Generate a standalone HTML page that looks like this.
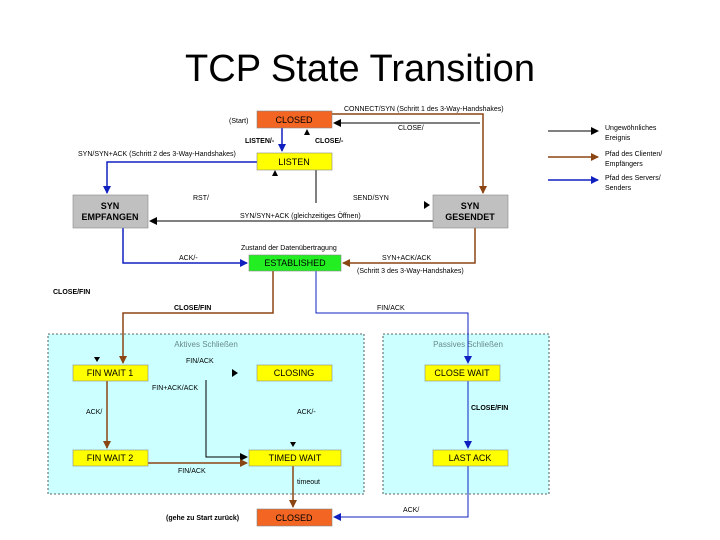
<!DOCTYPE html>
<html><head><meta charset="utf-8"><style>
html,body{margin:0;padding:0;background:#fff;width:720px;height:540px;overflow:hidden}
svg text{font-family:"Liberation Sans",sans-serif}
</style></head><body>
<svg width="720" height="540" viewBox="0 0 720 540" xmlns="http://www.w3.org/2000/svg">
<defs>
<marker id="ab" markerWidth="8" markerHeight="8" refX="7" refY="4" orient="auto" markerUnits="userSpaceOnUse"><path d="M0,0 L8,4 L0,8z" fill="#000"/></marker>
<marker id="ar" markerWidth="8" markerHeight="8" refX="7" refY="4" orient="auto" markerUnits="userSpaceOnUse"><path d="M0,0 L8,4 L0,8z" fill="#8b4513"/></marker>
<marker id="au" markerWidth="8" markerHeight="8" refX="7" refY="4" orient="auto" markerUnits="userSpaceOnUse"><path d="M0,0 L8,4 L0,8z" fill="#1020c0"/></marker>
</defs>
<text x="360" y="81" font-size="38" text-anchor="middle" fill="#000">TCP State Transition</text>

<!-- regions -->
<rect x="48" y="334" width="316" height="160" fill="#ccffff" stroke="#333" stroke-dasharray="2,2" stroke-width="0.8"/>
<rect x="383" y="334" width="166" height="160" fill="#ccffff" stroke="#333" stroke-dasharray="2,2" stroke-width="0.8"/>
<text x="206" y="347" font-size="8" text-anchor="middle" fill="#6a8a8a">Aktives Schließen</text>
<text x="468" y="347" font-size="8" text-anchor="middle" fill="#6a8a8a">Passives Schließen</text>

<g fill="none" stroke-width="1.5">
<polyline points="332,114 483,114 483,193" stroke="#8b4513" marker-end="url(#ar)"/>
<polyline points="480,123 334,123" stroke="#000" stroke-width="1" marker-end="url(#ab)"/>
<polyline points="282,128 282,151" stroke="#1020c0" marker-end="url(#au)"/>
<polyline points="257,162 107,162 107,193" stroke="#1020c0" marker-end="url(#au)"/>
<polyline points="316,170 316,203" stroke="#000" stroke-width="1"/>
<polyline points="433,221 150,221" stroke="#000" stroke-width="1" marker-end="url(#ab)"/>
<polyline points="123,228 123,263 247,263" stroke="#1020c0" marker-end="url(#au)"/>
<polyline points="475,228 475,263 343,263" stroke="#8b4513" marker-end="url(#ar)"/>
<polyline points="273,271 273,313 123,313 123,363" stroke="#8b4513" marker-end="url(#ar)"/>
<polyline points="316,271 316,313 468,313 468,363" stroke="#1020c0" stroke-width="1" marker-end="url(#au)"/>
<polyline points="107,381 107,448" stroke="#8b4513" marker-end="url(#ar)"/>
<polyline points="206,380 206,457 247,457" stroke="#000" stroke-width="1" marker-end="url(#ab)"/>
<polyline points="148,463 247,463" stroke="#8b4513" marker-end="url(#ar)"/>
<polyline points="293,466 293,507" stroke="#8b4513" marker-end="url(#ar)"/>
<polyline points="468,381 468,448" stroke="#1020c0" stroke-width="1" marker-end="url(#au)"/>
<polyline points="468,466 468,517 334,517" stroke="#1020c0" stroke-width="1" marker-end="url(#au)"/>
<line x1="548" y1="131" x2="598" y2="131" stroke="#000" stroke-width="1" marker-end="url(#ab)"/>
<line x1="548" y1="157" x2="598" y2="157" stroke="#8b4513" marker-end="url(#ar)"/>
<line x1="548" y1="180" x2="598" y2="180" stroke="#1020c0" marker-end="url(#au)"/>
</g>
<!-- small triangles -->
<g fill="#000">
<path d="M304,135 L307,129 L310,135z"/>
<path d="M272,176 L275,170 L278,176z"/>
<path d="M424,201 L430,205 L424,209z"/>
<path d="M94,357 L100,357 L97,362z"/>
<path d="M232,369 L238,373 L232,377z"/>
<path d="M290,442 L296,442 L293,447z"/>
</g>

<!-- boxes -->
<g stroke="#888" stroke-width="0.6" font-size="9" text-anchor="middle">
<rect x="257" y="111" width="75" height="17" fill="#f26522"/>
<rect x="257" y="153" width="75" height="17" fill="#ffff00"/>
<rect x="73" y="195" width="75" height="33" fill="#c0c0c0"/>
<rect x="433" y="195" width="75" height="33" fill="#c0c0c0"/>
<rect x="249" y="255" width="92" height="16" fill="#22ee22"/>
<rect x="73" y="365" width="75" height="16" fill="#ffff00"/>
<rect x="257" y="365" width="75" height="16" fill="#ffff00"/>
<rect x="425" y="365" width="75" height="16" fill="#ffff00"/>
<rect x="73" y="450" width="75" height="16" fill="#ffff00"/>
<rect x="249" y="450" width="92" height="16" fill="#ffff00"/>
<rect x="433" y="450" width="75" height="16" fill="#ffff00"/>
<rect x="257" y="509" width="75" height="17" fill="#f26522"/>
</g>
<g font-size="9" text-anchor="middle" fill="#000">
<text x="294" y="123">CLOSED</text>
<text x="294" y="165">LISTEN</text>
<text x="110" y="209" font-weight="bold">SYN</text>
<text x="110" y="220" font-weight="bold">EMPFANGEN</text>
<text x="470" y="209" font-weight="bold">SYN</text>
<text x="470" y="220" font-weight="bold">GESENDET</text>
<text x="295" y="266">ESTABLISHED</text>
<text x="110" y="376">FIN WAIT 1</text>
<text x="294" y="376">CLOSING</text>
<text x="462" y="376">CLOSE WAIT</text>
<text x="110" y="461">FIN WAIT 2</text>
<text x="295" y="461">TIMED WAIT</text>
<text x="470" y="461">LAST ACK</text>
<text x="294" y="521">CLOSED</text>
</g>

<!-- labels -->
<g font-size="7" fill="#000">
<text x="229" y="123">(Start)</text>
<text x="344" y="111">CONNECT/SYN (Schritt 1 des 3-Way-Handshakes)</text>
<text x="398" y="130">CLOSE/</text>
<text x="245" y="143" font-weight="bold">LISTEN/-</text>
<text x="315" y="143" font-weight="bold">CLOSE/-</text>
<text x="78" y="156">SYN/SYN+ACK (Schritt 2 des 3-Way-Handshakes)</text>
<text x="193" y="200">RST/</text>
<text x="353" y="200">SEND/SYN</text>
<text x="240" y="218">SYN/SYN+ACK (gleichzeitiges Öffnen)</text>
<text x="241" y="250">Zustand der Datenübertragung</text>
<text x="179" y="260">ACK/-</text>
<text x="382" y="260">SYN+ACK/ACK</text>
<text x="357" y="273">(Schritt 3 des 3-Way-Handshakes)</text>
<text x="53" y="294" font-weight="bold">CLOSE/FIN</text>
<text x="174" y="310" font-weight="bold">CLOSE/FIN</text>
<text x="377" y="310">FIN/ACK</text>
<text x="186" y="363">FIN/ACK</text>
<text x="152" y="390">FIN+ACK/ACK</text>
<text x="86" y="414">ACK/</text>
<text x="297" y="414">ACK/-</text>
<text x="471" y="410" font-weight="bold">CLOSE/FIN</text>
<text x="178" y="473">FIN/ACK</text>
<text x="297" y="484">timeout</text>
<text x="403" y="512">ACK/</text>
<text x="166" y="520" font-weight="bold">(gehe zu Start zurück)</text>
<text x="605" y="130">Ungewöhnliches</text>
<text x="605" y="140">Ereignis</text>
<text x="605" y="156">Pfad des Clienten/</text>
<text x="605" y="166">Empfängers</text>
<text x="605" y="180">Pfad des Servers/</text>
<text x="605" y="190">Senders</text>
</g>
</svg>
</body></html>
